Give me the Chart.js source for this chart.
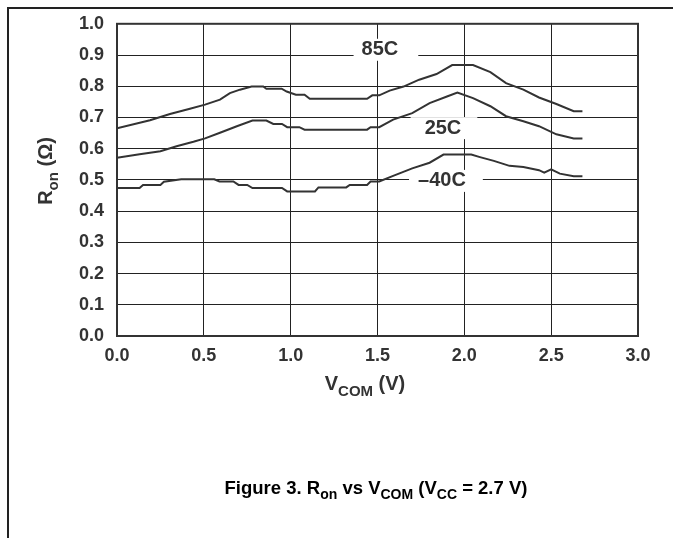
<!DOCTYPE html>
<html>
<head>
<meta charset="utf-8">
<script src="https://cdn.jsdelivr.net/npm/chart.js@4.4.0/dist/chart.umd.min.js"></script>
<style>
  html, body { margin: 0; padding: 0; background: #fff; }
  #wrap { position: relative; width: 673px; height: 538px; }
  #frameTop { position: absolute; left: 7px; top: 7px; width: 666px; height: 0; border-top: 2px solid #222; }
  #frameLeft { position: absolute; left: 7px; top: 7px; width: 0; height: 531px; border-left: 2px solid #222; }
  canvas { position: absolute; left: 0; top: 0; }
</style>
</head>
<body>
<div id="wrap">
  <canvas id="myChart" width="673" height="538"></canvas>
  <div id="frameTop"></div>
  <div id="frameLeft"></div>
</div>
<script>
// V_COM (V) and R_on (ohm)
var vcom85 = [0, 0.19, 0.305, 0.42, 0.507, 0.593, 0.65, 0.708, 0.775, 0.842, 0.86, 0.948, 0.977, 1.03, 1.08, 1.11, 1.44, 1.47, 1.51, 1.57, 1.65, 1.74, 1.84, 1.93, 2.05, 2.15, 2.24, 2.34, 2.43, 2.53, 2.63, 2.68];
var ron85  = [0.665, 0.691, 0.711, 0.728, 0.741, 0.757, 0.778, 0.789, 0.799, 0.799, 0.792, 0.792, 0.783, 0.773, 0.773, 0.760, 0.760, 0.771, 0.771, 0.786, 0.799, 0.821, 0.839, 0.868, 0.868, 0.845, 0.810, 0.789, 0.764, 0.743, 0.720, 0.720];

var vcom25 = [0, 0.13, 0.25, 0.343, 0.44, 0.507, 0.593, 0.69, 0.78, 0.86, 0.9, 0.95, 0.98, 1.05, 1.08, 1.44, 1.46, 1.51, 1.59, 1.70, 1.80, 1.90, 1.96, 2.05, 2.15, 2.24, 2.34, 2.43, 2.53, 2.63, 2.68];
var ron25  = [0.571, 0.582, 0.592, 0.608, 0.622, 0.633, 0.651, 0.672, 0.690, 0.690, 0.679, 0.679, 0.669, 0.669, 0.661, 0.661, 0.669, 0.669, 0.693, 0.714, 0.746, 0.767, 0.780, 0.762, 0.736, 0.704, 0.688, 0.672, 0.646, 0.633, 0.633];

var vcomM40 = [0, 0.13, 0.15, 0.25, 0.27, 0.37, 0.56, 0.59, 0.67, 0.70, 0.75, 0.78, 0.95, 0.98, 1.14, 1.16, 1.32, 1.34, 1.44, 1.46, 1.51, 1.59, 1.70, 1.80, 1.88, 2.04, 2.09, 2.17, 2.26, 2.34, 2.43, 2.46, 2.50, 2.55, 2.63, 2.68];
var ronM40  = [0.474, 0.474, 0.484, 0.484, 0.494, 0.502, 0.502, 0.495, 0.495, 0.484, 0.484, 0.474, 0.474, 0.463, 0.463, 0.476, 0.476, 0.484, 0.484, 0.495, 0.495, 0.513, 0.537, 0.555, 0.581, 0.581, 0.573, 0.561, 0.545, 0.541, 0.531, 0.523, 0.534, 0.520, 0.512, 0.512];

var seriesNames = ['85C', '25C', '\u201340C'];
var xTicks = [0, 0.5, 1.0, 1.5, 2.0, 2.5, 3.0];
var yTicks = [0, 0.1, 0.2, 0.3, 0.4, 0.5, 0.6, 0.7, 0.8, 0.9, 1.0];

function toPoints(xs, ys) {
  var pts = [];
  for (var i = 0; i < xs.length; i++) pts.push({ x: xs[i], y: ys[i] });
  return pts;
}

// where each curve name sits (data coords) + white gap around it
var labelSpots = [
  { v: 1.514, r: 0.920, padL: 8, padR: 20 },
  { v: 1.877, r: 0.669, padL: 14, padR: 16 },
  { v: 1.871, r: 0.500, padL: 9, padR: 17 }
];

var FONT = '"Liberation Sans", Arial, Helvetica, sans-serif';
var INK = '#333';

// draws text made of [string, isSub] parts, centred on x
function drawParts(ctx, parts, x, y, size, subRatio) {
  var subSize = Math.round(size * (subRatio || 0.72));
  var total = 0;
  parts.forEach(function(p) {
    ctx.font = 'bold ' + (p[1] ? subSize : size) + 'px ' + FONT;
    total += ctx.measureText(p[0]).width;
  });
  var cx = x - total / 2;
  ctx.textAlign = 'left';
  ctx.textBaseline = 'alphabetic';
  parts.forEach(function(p) {
    ctx.font = 'bold ' + (p[1] ? subSize : size) + 'px ' + FONT;
    ctx.fillText(p[0], cx, y + (p[1] ? size * 0.28 : 0));
    cx += ctx.measureText(p[0]).width;
  });
}

var curveLabels = {
  id: 'curveLabels',
  beforeDatasetsDraw: function(chart) {
    var ctx = chart.ctx;
    var xs = chart.scales.x, ys = chart.scales.y;
    ctx.save();
    ctx.font = 'bold 20px ' + FONT;
    labelSpots.forEach(function(s, i) {
      var px = xs.getPixelForValue(s.v);
      var py = ys.getPixelForValue(s.r);
      var w = ctx.measureText(seriesNames[i]).width;
      ctx.fillStyle = '#fff';
      ctx.fillRect(px - w / 2 - s.padL, py - 10, w + s.padL + s.padR, 22);
      ctx.fillStyle = INK;
      ctx.textAlign = 'center';
      ctx.textBaseline = 'middle';
      ctx.fillText(seriesNames[i], px, py + 1);
    });
    ctx.restore();
  },
  afterDraw: function(chart) {
    var ctx = chart.ctx;
    var a = chart.chartArea;
    ctx.save();
    ctx.strokeStyle = INK;
    ctx.lineWidth = 2;
    ctx.strokeRect(a.left, a.top, a.right - a.left, a.bottom - a.top);
    ctx.fillStyle = INK;
    // x axis title
    drawParts(ctx, [['V', false], ['COM', true], [' (V)', false]], 365, 390, 20, 0.75);
    // y axis title
    ctx.translate(52, 171);
    ctx.rotate(-Math.PI / 2);
    drawParts(ctx, [['R', false], ['on', true], [' (\u03A9)', false]], 0, 0, 20, 0.75);
    ctx.restore();
    ctx.save();
    ctx.fillStyle = '#000';
    drawParts(ctx, [['Figure 3. R', false], ['on', true], [' vs V', false], ['COM', true], [' (V', false], ['CC', true], [' = 2.7 V)', false]], 376, 494, 18.5, 0.75);
    ctx.restore();
  }
};

function makeSet(xs, ys) {
  return {
    data: toPoints(xs, ys),
    borderColor: INK,
    borderWidth: 2,
    pointRadius: 0,
    showLine: true,
    tension: 0,
    fill: false
  };
}

var ctx = document.getElementById('myChart').getContext('2d');
var myChart = new Chart(ctx, {
  type: 'scatter',
  data: {
    datasets: [makeSet(vcom85, ron85), makeSet(vcom25, ron25), makeSet(vcomM40, ronM40)]
  },
  options: {
    responsive: false,
    animation: false,
    layout: { padding: { top: 22, right: 35, left: 0, bottom: 0 } },
    plugins: { legend: { display: false }, tooltip: { enabled: false } },
    scales: {
      x: {
        type: 'linear',
        min: 0,
        max: 3,
        afterFit: function(s) { s.height = 202; },
        afterBuildTicks: function(s) { s.ticks = xTicks.map(function(v) { return { value: v }; }); },
        ticks: {
          color: INK,
          padding: 9,
          font: { family: FONT, size: 18, weight: 'bold' },
          callback: function(v) { return v.toFixed(1); }
        },
        grid: { color: '#222', lineWidth: 1, drawTicks: false },
        border: { display: false }
      },
      y: {
        min: 0,
        max: 1,
        afterFit: function(s) { s.width = 117; },
        afterBuildTicks: function(s) { s.ticks = yTicks.map(function(v) { return { value: v }; }); },
        ticks: {
          color: INK,
          padding: 13,
          font: { family: FONT, size: 18, weight: 'bold' },
          callback: function(v) { return v.toFixed(1); }
        },
        grid: { color: '#222', lineWidth: 1, drawTicks: false },
        border: { display: false }
      }
    }
  },
  plugins: [curveLabels]
});
</script>
</body>
</html>
